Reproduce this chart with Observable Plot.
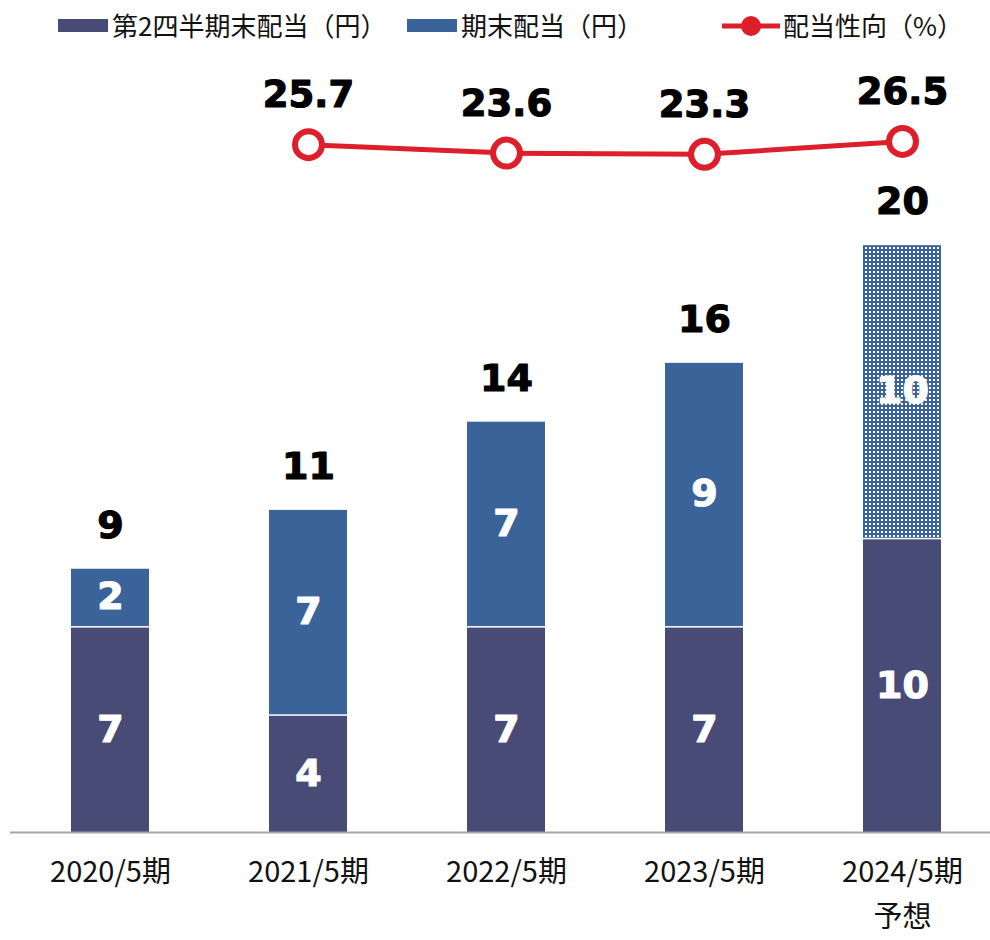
<!DOCTYPE html>
<html>
<head>
<meta charset="utf-8">
<script src="https://cdn.jsdelivr.net/npm/d3@7"></script>
<script src="https://cdn.jsdelivr.net/npm/@observablehq/plot@0.6"></script>
<style>
  body { margin: 0; background: #fff; font-family: "Noto Sans CJK JP", sans-serif; }
  #legend { position: relative; width: 990px; height: 50px; }
  #legend .sw { position: absolute; top: 19px; width: 50px; height: 13px; }
  #legend .lab { position: absolute; top: 8px; font-size: 26px; line-height: 34px; color: #111; white-space: nowrap; }
  #chart svg { display: block; }
</style>
</head>
<body>
<div id="legend"></div>
<div id="chart"></div>
<script>
// ---- data ----
const periods = ["2020/5期", "2021/5期", "2022/5期", "2023/5期", "2024/5期"];
const subLabels = ["", "", "", "", "予想"];
const interimDiv = [7, 4, 7, 7, 10];      // 第2四半期末配当（円）
const yearEndDiv = [2, 7, 7, 9, 10];      // 期末配当（円）
const totalDiv = [9, 11, 14, 16, 20];     // 年間配当
const payoutRatio = [null, 25.7, 23.6, 23.3, 26.5]; // 配当性向（%）
const isForecast = [false, false, false, false, true];
const seriesNames = ["第2四半期末配当（円）", "期末配当（円）", "配当性向（%）"];

// ---- colors ----
const cNavy = "#494b77";
const cBlue = "#3a6399";
const cRed = "#dc1f2b";

// ---- legend ----
const legend = document.getElementById("legend");
legend.innerHTML = `
  <div class="sw" style="left:58px;background:${cNavy}"></div>
  <div class="lab" style="left:112px">${seriesNames[0]}</div>
  <div class="sw" style="left:407px;background:${cBlue}"></div>
  <div class="lab" style="left:461px">${seriesNames[1]}</div>
  <svg style="position:absolute;left:720px;top:12px" width="62" height="28">
    <line x1="2" y1="14" x2="60" y2="14" stroke="${cRed}" stroke-width="5"/>
    <circle cx="31" cy="14" r="10" fill="${cRed}"/>
  </svg>
  <div class="lab" style="left:783px">${seriesNames[2]}</div>
`;

// ---- tables ----
const rows = [];
periods.forEach((p, i) => {
  rows.push({period: p, series: 0, value: interimDiv[i], forecast: isForecast[i]});
  rows.push({period: p, series: 1, value: yearEndDiv[i], forecast: isForecast[i]});
});
const totals = periods.map((p, i) => ({period: p, total: totalDiv[i]}));
const ratios = periods.map((p, i) => ({period: p, ratio: payoutRatio[i]})).filter(d => d.ratio != null);
const subs = periods.map((p, i) => ({period: p, sub: subLabels[i]})).filter(d => d.sub);

// secondary axis for payout ratio (%), mapped onto the yen axis
const ratioAxis = d3.scaleLinear().domain([0, 40]).range([19.85, 25.35]);

const fillFor = d => d.series === 0 ? cNavy : (d.forecast ? "url(#hatch)" : cBlue);

const boldFont = "DejaVu Sans, sans-serif";

const svg = Plot.plot({
  width: 990,
  height: 890,
  marginLeft: 10,
  marginRight: 0,
  marginTop: 76,
  marginBottom: 108,
  x: {domain: periods, paddingInner: 0.607, paddingOuter: 0.272, align: 0.556, axis: null},
  y: {domain: [0, 24], axis: null},
  color: {type: "identity"},
  style: {background: "white"},
  marks: [
    Plot.barY(rows, Plot.stackY({x: "period", y: "value", fill: fillFor, insetTop: 1.5})),
    Plot.ruleY([0], {stroke: "#a6a6a6", strokeWidth: 2}),
    Plot.text(rows, Plot.stackY({x: "period", y: "value", text: d => String(d.value),
      fill: "white", stroke: "white", strokeWidth: 1.2, fontSize: 38, fontWeight: "bold", fontFamily: boldFont})),
    Plot.text(totals, {x: "period", y: "total", text: d => String(d.total), dy: -42,
      fill: "black", stroke: "black", strokeWidth: 1.2, fontSize: 38, fontWeight: "bold", fontFamily: boldFont}),
    Plot.line(ratios, {x: "period", y: d => ratioAxis(d.ratio), stroke: cRed, strokeWidth: 5}),
    Plot.dot(ratios, {x: "period", y: d => ratioAxis(d.ratio), r: 13.5, stroke: cRed, strokeWidth: 6, fill: "white"}),
    Plot.text(ratios, {x: "period", y: d => ratioAxis(d.ratio), text: d => d.ratio.toFixed(1), dy: -49,
      fill: "black", stroke: "black", strokeWidth: 1.2, fontSize: 37, fontWeight: "bold", fontFamily: boldFont}),
    Plot.text(periods, {x: d => d, text: d => d, frameAnchor: "bottom", dy: 49,
      fill: "#111", fontSize: 29, fontFamily: "Noto Sans CJK JP"}),
    Plot.text(subs, {x: "period", text: "sub", frameAnchor: "bottom", dy: 94,
      fill: "#111", fontSize: 29, fontFamily: "Noto Sans CJK JP"})
  ]
});

// hatch pattern for forecast
const defs = d3.select(svg).insert("defs", ":first-child");
const pat = defs.append("pattern").attr("id", "hatch").attr("patternUnits", "userSpaceOnUse")
  .attr("width", 4).attr("height", 4);
pat.append("rect").attr("width", 4).attr("height", 4).attr("fill", cBlue);
pat.append("rect").attr("x", 1).attr("y", 1).attr("width", 2).attr("height", 2).attr("fill", "white");

document.getElementById("chart").appendChild(svg);
</script>
</body>
</html>
